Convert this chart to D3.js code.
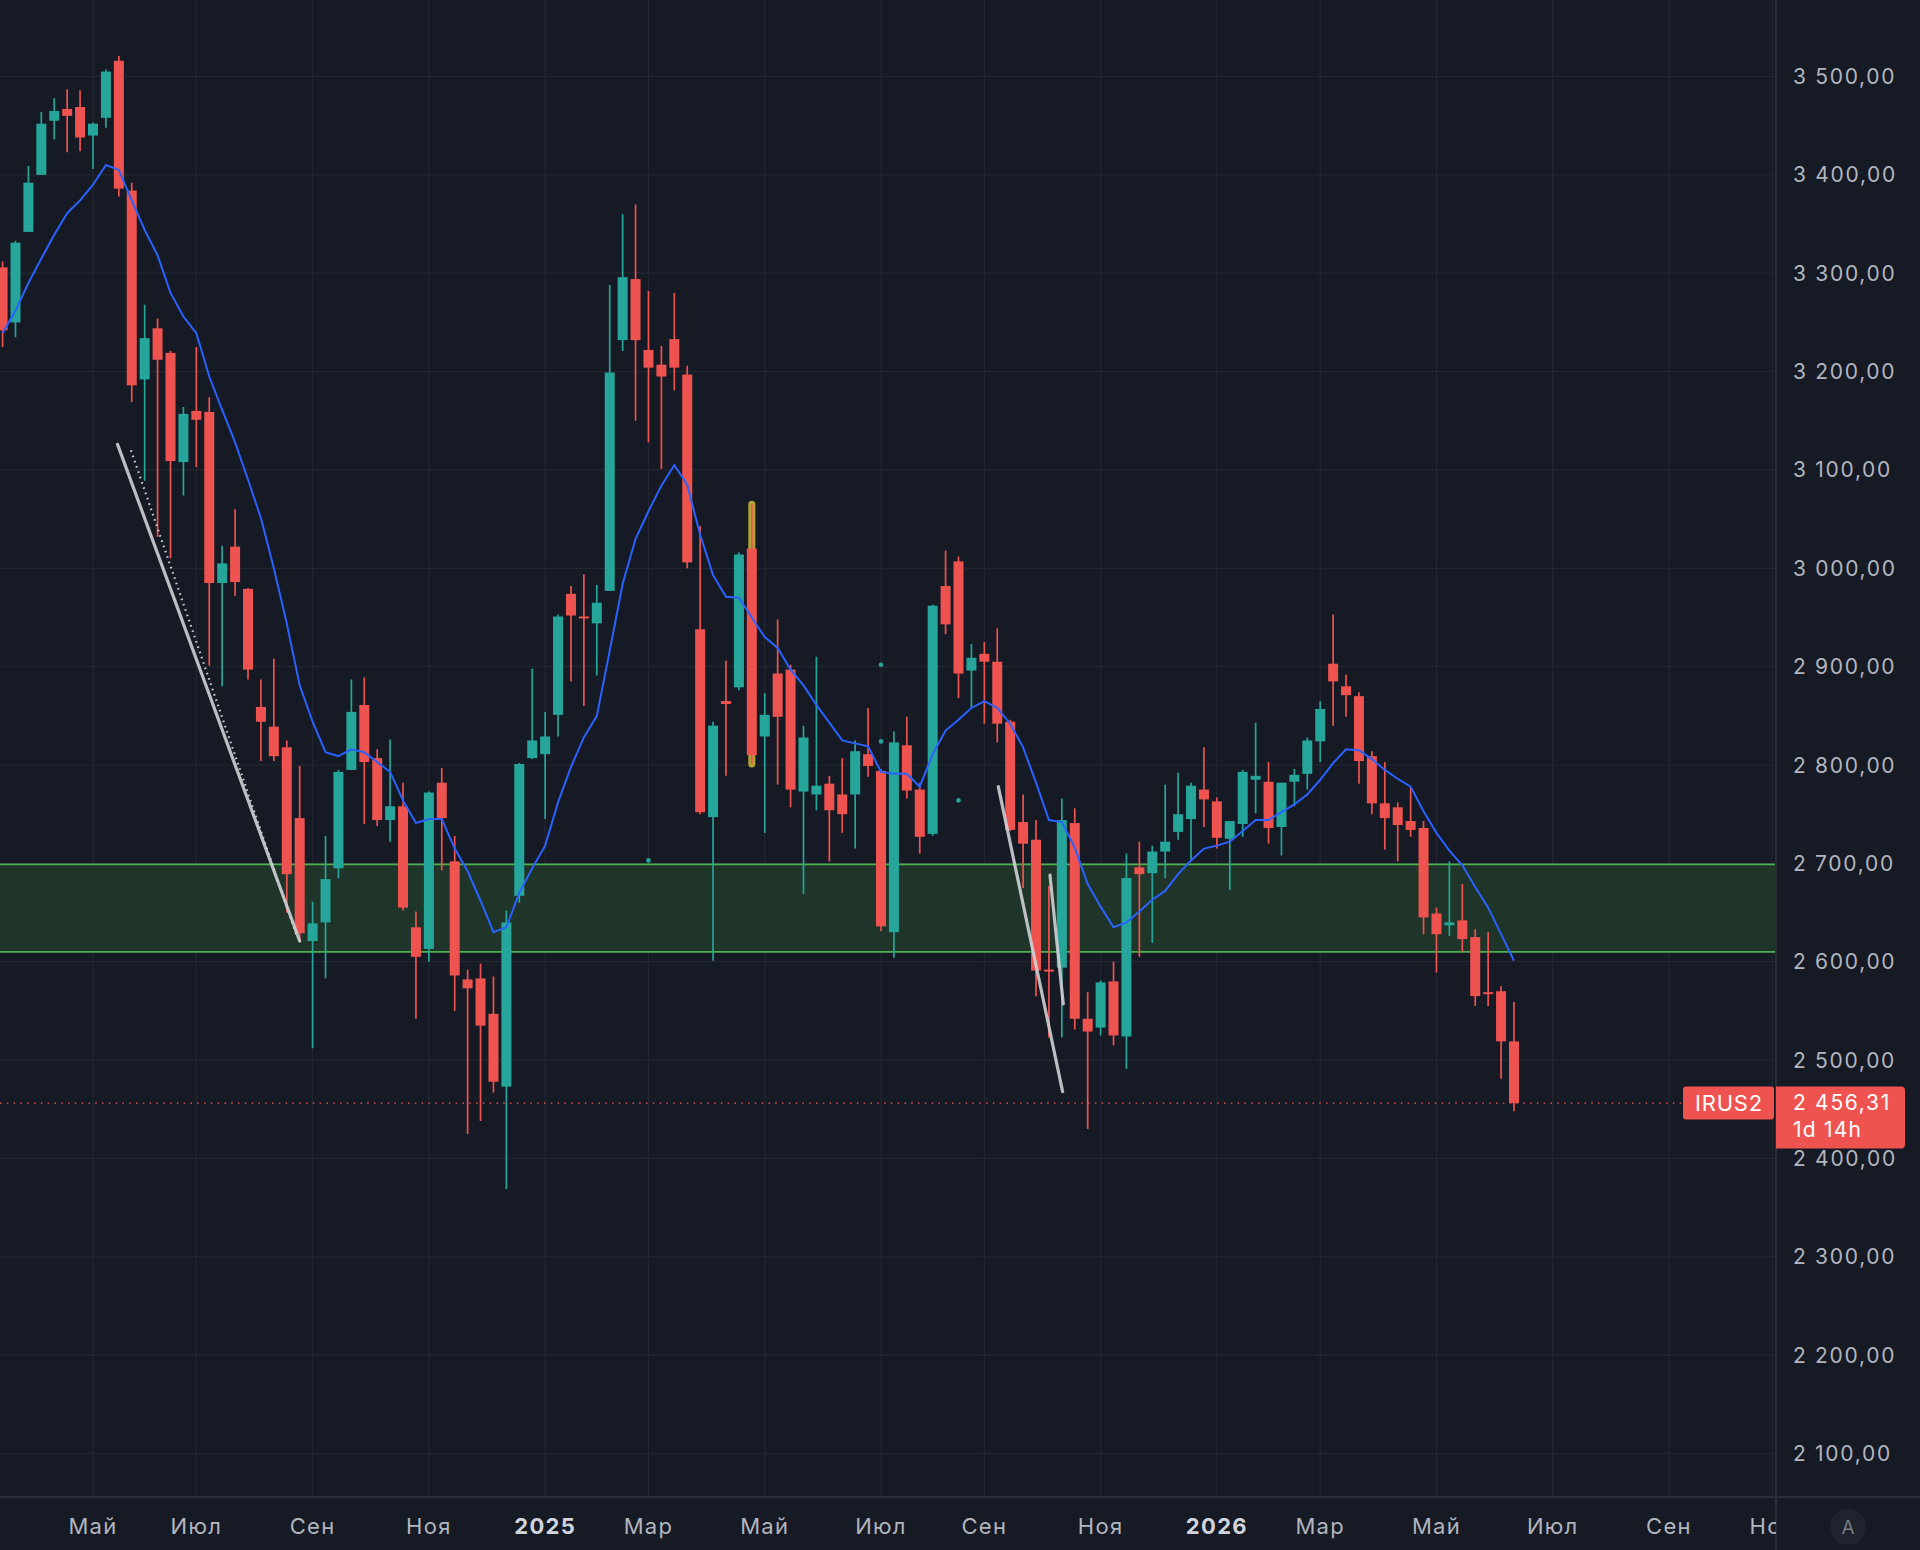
<!DOCTYPE html>
<html><head><meta charset="utf-8">
<script src="https://cdn.jsdelivr.net/npm/d3@7"></script>
<style>html,body{margin:0;padding:0;background:#161a25;}svg{display:block}</style>
</head><body>
<svg id="chart" width="1920" height="1550"></svg>
<script>
// ---- data (weekly candles, first week 2024-03-18, last 2026-06-15) ----
const firstWeek = "2024-03-18";
const opens  = [3306,3250,3342,3400,3455,3467,3469,3440,3458,3516,3384,3192,3244,3219,3108,3160,3159,2985,3022,2979,2859,2839,2818,2746,2621,2640,2695,2795,2861,2807,2744,2758,2635,2613,2782,2702,2582,2583,2547,2473,2667,2807,2811,2851,2974,2951,2944,2977,3232,3294,3222,3207,3233,3197,2938,2747,2865,2879,3020,2829,2893,2897,2773,2770,2781,2770,2770,2811,2794,2630,2820,2775,2730,2982,3007,2896,2913,2905,2844,2742,2724,2592,2594,2741,2542,2533,2580,2524,2696,2690,2712,2732,2745,2775,2763,2725,2740,2785,2783,2737,2783,2791,2824,2903,2880,2870,2809,2761,2757,2743,2736,2649,2637,2642,2625,2569,2570,2519];
const highs  = [3312,3333,3409,3464,3478,3487,3486,3453,3507,3521,3392,3268,3254,3221,3164,3225,3174,3023,3060,2980,2887,2908,2825,2799,2661,2728,2795,2887,2889,2816,2826,2782,2651,2773,2797,2728,2592,2598,2585,2652,2802,2898,2854,2953,2982,2994,2983,3288,3360,3370,3282,3226,3280,3206,3043,2844,2906,3016,3065,2873,2948,2902,2840,2910,2789,2807,2825,2858,2796,2834,2849,2782,2963,3018,3012,2923,2925,2939,2846,2770,2744,2677,2766,2756,2569,2581,2600,2710,2722,2718,2780,2792,2782,2818,2767,2743,2795,2843,2803,2782,2796,2828,2865,2953,2892,2874,2814,2803,2762,2778,2743,2655,2702,2679,2633,2630,2575,2559];
const lows   = [3225,3235,3342,3400,3436,3423,3424,3406,3448,3378,3169,3089,3032,3010,3074,3103,2901,2880,2972,2887,2804,2804,2650,2620,2512,2583,2685,2795,2740,2738,2722,2652,2542,2600,2693,2550,2425,2438,2467,2369,2660,2806,2745,2829,2885,2860,2891,2977,3221,3150,3128,3101,3181,3000,2750,2601,2789,2876,2801,2731,2780,2757,2669,2754,2702,2731,2715,2788,2631,2604,2766,2710,2728,2933,2868,2858,2842,2823,2733,2675,2565,2523,2523,2531,2430,2525,2515,2491,2605,2619,2685,2724,2704,2737,2715,2673,2727,2751,2720,2708,2758,2775,2803,2840,2849,2781,2750,2714,2702,2727,2628,2589,2626,2610,2555,2555,2481,2448];
const closes = [3242,3331,3392,3452,3465,3460,3438,3452,3505,3386,3186,3234,3212,3109,3157,3151,2985,3005,2986,2897,2844,2809,2689,2629,2639,2684,2793,2854,2803,2744,2758,2655,2605,2772,2746,2586,2573,2535,2478,2640,2801,2825,2829,2951,2952,2949,2965,3199,3296,3232,3204,3195,3204,3006,2752,2840,2862,3014,2810,2851,2849,2775,2828,2779,2754,2750,2814,2799,2636,2823,2774,2727,2962,2943,2893,2909,2905,2842,2734,2720,2591,2590,2744,2542,2529,2579,2525,2685,2689,2712,2722,2750,2779,2765,2726,2743,2793,2789,2736,2782,2790,2825,2857,2885,2871,2804,2761,2746,2739,2734,2645,2628,2640,2623,2565,2567,2519,2456.31];
const maValues = [3239,3262,3290,3315,3339,3361,3374,3390,3410,3405,3374,3344,3318,3280,3256,3239,3195,3161,3128,3090,3051,3000,2944,2881,2844,2813,2809,2816,2813,2803,2793,2764,2741,2745,2745,2715,2692,2662,2630,2635,2670,2695,2718,2762,2798,2828,2850,2916,2984,3030,3058,3084,3105,3085,3034,2993,2971,2970,2950,2930,2919,2897,2881,2861,2843,2825,2822,2819,2793,2791,2791,2778,2811,2835,2846,2858,2865,2858,2842,2818,2782,2744,2742,2716,2679,2656,2635,2640,2651,2663,2672,2689,2703,2715,2718,2722,2733,2744,2744,2752,2760,2770,2785,2802,2816,2815,2806,2795,2786,2778,2753,2731,2713,2698,2676,2655,2628,2601];
// time axis ticks
const tickDates  = ["2024-05-06","2024-07-01","2024-09-02","2024-11-04","2025-01-06","2025-03-03","2025-05-05","2025-07-07","2025-09-01","2025-11-03","2026-01-05","2026-03-02","2026-05-04","2026-07-06","2026-09-07","2026-11-02"];
const tickLabels = ["Май","Июл","Сен","Ноя","2025","Мар","Май","Июл","Сен","Ноя","2026","Мар","Май","Июл","Сен","Ноя"];
const boldTicks  = ["2025","2026"];
// zone and annotations (week index from first week, price)
const zoneLow = 2610, zoneHigh = 2699;
const lastPrice = 2456.31;
const symbolName = "IRUS2";
const countdown = "1d 14h";
const trendStartIdx = [8.9, 77.08, 81.08];
const trendStartPx  = [3126, 2778, 2688];
const trendEndIdx   = [23.0, 82.06, 82.11];
const trendEndPx    = [2621, 2468, 2557];
const dottedStartIdx = [9.94], dottedStartPx = [3120];
const dottedEndIdx   = [22.75], dottedEndPx  = [2627];
const markerIdx   = [50, 68, 68, 74];
const markerPrice = [2703, 2902, 2824, 2764];
const highlightIdx = 58;

// ---- layout ----
const W = 1920, H = 1550, plotR = 1776, plotB = 1497;
const C = {bg:"#161a25", grid:"#232733", up:"#26a69a", down:"#ef5350", ma:"#2962ff", text:"#b2b5be", sep:"#2a2e39"};
const FONT = "Inter, 'Noto Sans', sans-serif";
const parse = d3.utcParse("%Y-%m-%d");
const week0 = parse(firstWeek);
const dates = d3.utcMonday.range(week0, d3.utcMonday.offset(week0, opens.length));
const idxDate = i => new Date(week0.getTime() + i * 7 * 864e5);

const x = d3.scaleUtc().domain([parse("2024-05-06"), parse("2026-09-07")]).range([93, 1669]);
const y = d3.scaleLinear().domain([2100, 3500]).range([1453.5, 76.5]);
const loc = d3.formatLocale({decimal:",", thousands:" ", grouping:[3], currency:["",""]});
const fmt = loc.format(",.2f");

const svg = d3.select("#chart");
svg.append("rect").attr("width", W).attr("height", H).attr("fill", C.bg);
const defs = svg.append("defs");
defs.append("clipPath").attr("id","plot").append("rect").attr("x",0).attr("y",0).attr("width",plotR).attr("height",plotB);
defs.append("clipPath").attr("id","taxis").append("rect").attr("x",0).attr("y",plotB).attr("width",plotR).attr("height",H-plotB);

const plot = svg.append("g").attr("clip-path","url(#plot)");
// grid
const yTicks = y.ticks(14);
plot.append("g").selectAll("line").data(yTicks).join("line")
  .attr("x1",0).attr("x2",plotR).attr("y1",d=>y(d)).attr("y2",d=>y(d))
  .attr("stroke",C.grid).attr("stroke-width",1.2);
plot.append("g").selectAll("line").data(tickDates).join("line")
  .attr("x1",d=>x(parse(d))).attr("x2",d=>x(parse(d))).attr("y1",0).attr("y2",plotB)
  .attr("stroke",C.grid).attr("stroke-width",1.2);

// zone
plot.append("rect").attr("x",0).attr("width",plotR).attr("y",y(zoneHigh)).attr("height",y(zoneLow)-y(zoneHigh))
  .attr("fill","#1f3529");
plot.append("g").selectAll("line").data([zoneHigh, zoneLow]).join("line")
  .attr("x1",0).attr("x2",plotR).attr("y1",d=>y(d)).attr("y2",d=>y(d))
  .attr("stroke","#4caf50").attr("stroke-width",1.6);

// highlight on one candle
const hx = x(dates[highlightIdx]);
plot.append("line").attr("x1",hx).attr("x2",hx)
  .attr("y1",y(highs[highlightIdx])).attr("y2",y(Math.max(opens[highlightIdx],closes[highlightIdx]))+4)
  .attr("stroke","#b3a437").attr("stroke-width",7).attr("stroke-linecap","round");
plot.append("line").attr("x1",hx).attr("x2",hx)
  .attr("y1",y(Math.min(opens[highlightIdx],closes[highlightIdx]))-4).attr("y2",y(lows[highlightIdx]))
  .attr("stroke","#b3a437").attr("stroke-width",7).attr("stroke-linecap","round");

// candles
const candles = plot.append("g").selectAll("g").data(d3.range(opens.length)).join("g");
const col = k => closes[k] >= opens[k] ? C.up : C.down;
candles.append("line")
  .attr("x1",k=>x(dates[k])).attr("x2",k=>x(dates[k]))
  .attr("y1",k=>y(highs[k])).attr("y2",k=>y(lows[k]))
  .attr("stroke",col).attr("stroke-width",1.7);
candles.append("rect")
  .attr("x",k=>x(dates[k])-5).attr("width",10)
  .attr("y",k=>y(Math.max(opens[k],closes[k])))
  .attr("height",k=>Math.max(1.6, Math.abs(y(opens[k])-y(closes[k]))))
  .attr("fill",col);

// moving average
plot.append("path").datum(d3.range(maValues.length))
  .attr("d", d3.line().x(k=>x(dates[k])).y(k=>y(maValues[k])))
  .attr("fill","none").attr("stroke",C.ma).attr("stroke-width",2);

// markers
plot.append("g").selectAll("circle").data(markerIdx).join("circle")
  .attr("cx",(d)=>x(dates[d])).attr("cy",(d,i)=>y(markerPrice[i])).attr("r",2.3).attr("fill",C.up);

// trend lines
plot.append("g").selectAll("line").data(trendStartIdx).join("line")
  .attr("x1",(d)=>x(idxDate(d))).attr("y1",(d,i)=>y(trendStartPx[i]))
  .attr("x2",(d,i)=>x(idxDate(trendEndIdx[i]))).attr("y2",(d,i)=>y(trendEndPx[i]))
  .attr("stroke","#cfd0d4").attr("stroke-opacity",0.9).attr("stroke-width",3.2).attr("stroke-linecap","round");
plot.append("g").selectAll("line").data(dottedStartIdx).join("line")
  .attr("x1",(d)=>x(idxDate(d))).attr("y1",(d,i)=>y(dottedStartPx[i]))
  .attr("x2",(d,i)=>x(idxDate(dottedEndIdx[i]))).attr("y2",(d,i)=>y(dottedEndPx[i]))
  .attr("stroke","#c9cbd1").attr("stroke-width",2.2).attr("stroke-dasharray","1.6,4");

// last price line
plot.append("line").attr("x1",0).attr("x2",plotR).attr("y1",y(lastPrice)).attr("y2",y(lastPrice))
  .attr("stroke",C.down).attr("stroke-width",1.3).attr("stroke-dasharray","1.6,5.2");

// separators
svg.append("line").attr("x1",0).attr("x2",W).attr("y1",plotB).attr("y2",plotB).attr("stroke",C.sep).attr("stroke-width",2);
svg.append("line").attr("x1",plotR).attr("x2",plotR).attr("y1",0).attr("y2",H).attr("stroke",C.sep).attr("stroke-width",2);

// price axis labels
svg.append("g").selectAll("text").data(yTicks).join("text")
  .attr("x",1793).attr("y",d=>y(d)).attr("dy","0.36em")
  .attr("font-family",FONT).attr("font-size",21).attr("letter-spacing",1.7)
  .attr("fill",C.text).text(d=>fmt(d));

// time axis labels
svg.append("g").attr("clip-path","url(#taxis)").selectAll("text").data(tickDates).join("text")
  .attr("x",d=>x(parse(d))).attr("y",1526).attr("dy","0.36em").attr("text-anchor","middle")
  .attr("font-family",FONT).attr("font-size",22).attr("letter-spacing",1.3)
  .attr("font-weight",(d,i)=>boldTicks.includes(tickLabels[i])?700:400)
  .attr("fill",(d,i)=>boldTicks.includes(tickLabels[i])?"#d1d4dc":C.text)
  .text((d,i)=>tickLabels[i]);

// symbol label
const ly = y(lastPrice);
svg.append("rect").attr("x",1683).attr("y",ly-16.5).attr("width",91).attr("height",33).attr("rx",3).attr("fill",C.down);
svg.append("text").attr("x",1729).attr("y",ly).attr("dy","0.36em").attr("text-anchor","middle")
  .attr("font-family",FONT).attr("font-size",22).attr("letter-spacing",0.8).attr("fill","#ffffff").text(symbolName);
// price box on axis
svg.append("path").attr("d",`M${plotR},${ly-16.5} H1901 q4,0 4,4 V${ly+41.5} q0,4 -4,4 H${plotR} Z`).attr("fill",C.down);
svg.append("text").attr("x",1793).attr("y",ly-1).attr("dy","0.36em")
  .attr("font-family",FONT).attr("font-size",21).attr("letter-spacing",1.7)
  .attr("fill","#ffffff").text(fmt(lastPrice));
svg.append("text").attr("x",1793).attr("y",ly+26).attr("dy","0.36em")
  .attr("font-family",FONT).attr("font-size",21).attr("letter-spacing",1.2)
  .attr("fill","#ffffff").text(countdown);

// auto-scale button
svg.append("circle").attr("cx",1848).attr("cy",1527).attr("r",18).attr("fill","#1f232e");
svg.append("text").attr("x",1848).attr("y",1527).attr("dy","0.36em").attr("text-anchor","middle")
  .attr("font-family",FONT).attr("font-size",19).attr("fill","#787b86").text("A");
</script>
</body></html>
